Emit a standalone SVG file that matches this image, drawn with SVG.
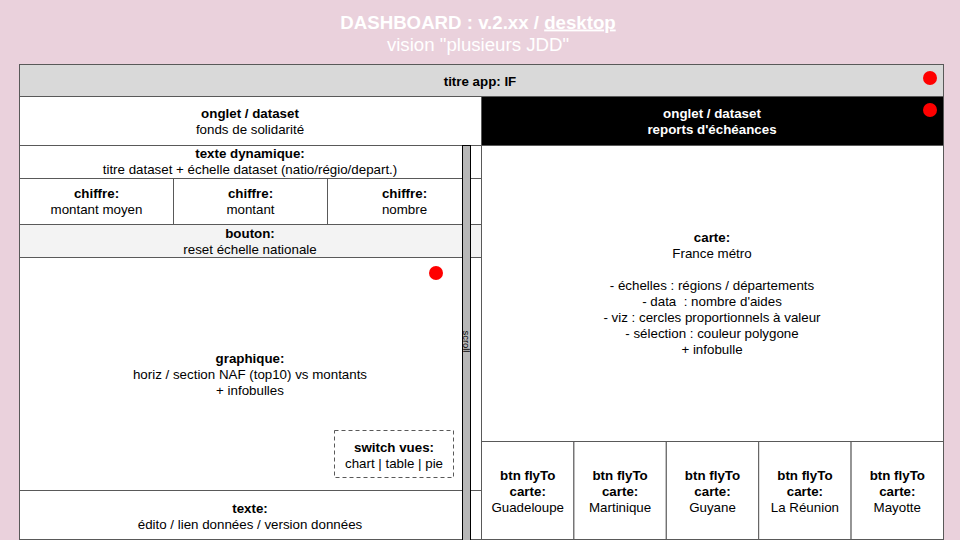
<svg xmlns="http://www.w3.org/2000/svg" width="960" height="540" viewBox="0 0 960 540">
<style>
.box{stroke:#595959;stroke-width:1}
.t{font-family:"Liberation Sans",Arial,sans-serif;font-size:13.33px;fill:#000;text-anchor:middle}
.b{font-weight:bold}
.w{fill:#fff}
.h{font-size:18.67px}
.dot{fill:#ff0000}
</style>
<rect width="960" height="540" fill="#ead1dc"/>
<g id="title">
<text x="478" y="28.5" class="t b w h">DASHBOARD : v.2.xx / <tspan text-decoration="underline">desktop</tspan></text>
<text x="478" y="51" class="t w h">vision "plusieurs JDD"</text>
</g>
<g id="titre-app">
<rect x="19.5" y="64.5" width="924" height="32" fill="#d9d9d9" class="box"/>
<text x="480" y="85.5" class="t b">titre app: IF</text>
<circle cx="930" cy="78" r="7" class="dot"/>
</g>
<g id="onglet-fonds">
<rect x="19.5" y="96.5" width="462" height="49" fill="#fff" class="box"/>
<text x="250" y="117.5" class="t b">onglet / dataset</text>
<text x="250" y="133.5" class="t">fonds de solidarité</text>
</g>
<g id="onglet-reports">
<rect x="481.5" y="96.5" width="462" height="49" fill="#000" class="box"/>
<text x="712" y="117.5" class="t b w">onglet / dataset</text>
<text x="712" y="133.5" class="t b w">reports d'échéances</text>
<circle cx="930" cy="110" r="7" class="dot"/>
</g>
<g id="texte-dynamique">
<rect x="19.5" y="145.5" width="462" height="33" fill="#fff" class="box"/>
<text x="250" y="157.5" class="t b">texte dynamique:</text>
<text x="250" y="173.5" class="t">titre dataset + échelle dataset (natio/régio/depart.)</text>
</g>
<g id="chiffre-moyen">
<rect x="19.5" y="178.5" width="154" height="46" fill="#fff" class="box"/>
<text x="96.5" y="197.5" class="t b">chiffre:</text>
<text x="96.5" y="213.5" class="t">montant moyen</text>
</g>
<g id="chiffre-montant">
<rect x="173.5" y="178.5" width="154" height="46" fill="#fff" class="box"/>
<text x="250.5" y="197.5" class="t b">chiffre:</text>
<text x="250.5" y="213.5" class="t">montant</text>
</g>
<g id="chiffre-nombre">
<rect x="327.5" y="178.5" width="154" height="46" fill="#fff" class="box"/>
<text x="404.5" y="197.5" class="t b">chiffre:</text>
<text x="404.5" y="213.5" class="t">nombre</text>
</g>
<g id="bouton">
<rect x="19.5" y="224.5" width="462" height="33" fill="#f3f3f3" class="box"/>
<text x="250" y="237.5" class="t b">bouton:</text>
<text x="250" y="253.5" class="t">reset échelle nationale</text>
</g>
<g id="graphique">
<rect x="19.5" y="257.5" width="462" height="233" fill="#fff" class="box"/>
<text x="250" y="362.5" class="t b">graphique:</text>
<text x="250" y="378.5" class="t">horiz / section NAF (top10) vs montants</text>
<text x="250" y="394.5" class="t">+ infobulles</text>
<circle cx="436" cy="273" r="7" class="dot"/>
</g>
<g id="switch-vues">
<rect x="334.5" y="430.5" width="119" height="47" fill="#fff" stroke="#595959" stroke-dasharray="4,3"/>
<text x="394" y="451.5" class="t b">switch vues:</text>
<text x="394" y="467.5" class="t">chart | table | pie</text>
</g>
<g id="texte">
<rect x="19.5" y="490.5" width="462" height="49" fill="#fff" class="box"/>
<text x="250" y="512.5" class="t b">texte:</text>
<text x="250" y="528.5" class="t">édito / lien données / version données</text>
</g>
<g id="scroll">
<rect x="462.5" y="145.5" width="8" height="396" fill="#b7b7b7" stroke="#000"/>
<text transform="translate(463.3,341.5) rotate(90)" class="t" style="font-size:9.33px">scroll</text>
</g>
<g id="carte">
<rect x="481.5" y="145.5" width="462" height="296" fill="#fff" class="box"/>
<text x="712" y="241.5" class="t b">carte:</text>
<text x="712" y="257.5" class="t">France métro</text>
<text x="712" y="289.5" class="t">- échelles : régions / départements</text>
<text x="712" y="305.5" class="t" xml:space="preserve">- data  : nombre d'aides</text>
<text x="712" y="321.5" class="t">- viz : cercles proportionnels à valeur</text>
<text x="712" y="337.5" class="t">- sélection : couleur polygone</text>
<text x="712" y="353.5" class="t">+ infobulle</text>
</g>
<g id="btn-guadeloupe">
<rect x="481.5" y="441.5" width="92.4" height="98" fill="#fff" class="box"/>
<text x="527.7" y="479.5" class="t b">btn flyTo</text>
<text x="527.7" y="495.5" class="t b">carte:</text>
<text x="527.7" y="511.5" class="t">Guadeloupe</text>
</g>
<g id="btn-martinique">
<rect x="573.9" y="441.5" width="92.4" height="98" fill="#fff" class="box"/>
<text x="620.1" y="479.5" class="t b">btn flyTo</text>
<text x="620.1" y="495.5" class="t b">carte:</text>
<text x="620.1" y="511.5" class="t">Martinique</text>
</g>
<g id="btn-guyane">
<rect x="666.3" y="441.5" width="92.4" height="98" fill="#fff" class="box"/>
<text x="712.5" y="479.5" class="t b">btn flyTo</text>
<text x="712.5" y="495.5" class="t b">carte:</text>
<text x="712.5" y="511.5" class="t">Guyane</text>
</g>
<g id="btn-reunion">
<rect x="758.7" y="441.5" width="92.4" height="98" fill="#fff" class="box"/>
<text x="804.9" y="479.5" class="t b">btn flyTo</text>
<text x="804.9" y="495.5" class="t b">carte:</text>
<text x="804.9" y="511.5" class="t">La Réunion</text>
</g>
<g id="btn-mayotte">
<rect x="851.1" y="441.5" width="92.4" height="98" fill="#fff" class="box"/>
<text x="897.3" y="479.5" class="t b">btn flyTo</text>
<text x="897.3" y="495.5" class="t b">carte:</text>
<text x="897.3" y="511.5" class="t">Mayotte</text>
</g>
<g id="connectors"></g>
</svg>
